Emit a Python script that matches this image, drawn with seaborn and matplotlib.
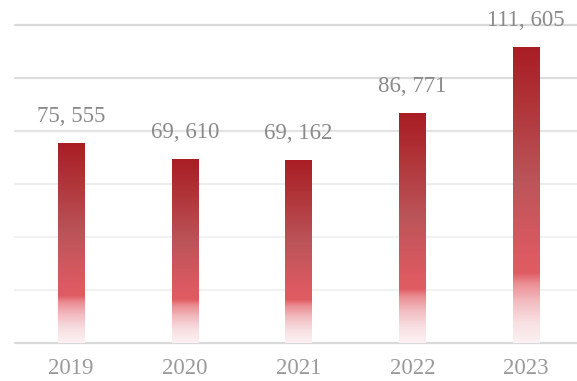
import numpy as np
import pandas as pd
import matplotlib
matplotlib.use("Agg")
import matplotlib.pyplot as plt
from matplotlib.colors import LinearSegmentedColormap
import seaborn as sns

years = ["2019", "2020", "2021", "2022", "2023"]
values = [75555, 69610, 69162, 86771, 111605]
y_ticks = [0, 20000, 40000, 60000, 80000, 100000, 120000]

sns.set_theme(style="white")
plt.rcParams["font.family"] = ["Liberation Serif", "DejaVu Serif"]

df = pd.DataFrame({"year": years, "value": values})

fig = plt.figure(figsize=(5.77, 3.81), dpi=100)
ax = fig.add_axes([15 / 577, 38 / 381, 562 / 577, 318 / 381])

sns.barplot(data=df, x="year", y="value", ax=ax, width=0.229,
            color="#c03a40", saturation=1, zorder=2)

# horizontal guide lines, lighter toward the lower part of the plot
grid_colors = ["#d9d9d9", "#f2f2f2", "#f2f2f2", "#ededed", "#e3e3e3", "#dcdcdc", "#d9d9d9"]
for yv, c in zip(y_ticks, grid_colors):
    ax.axhline(yv, color=c, lw=1.6, zorder=1, clip_on=False)

# vertical red gradient inside each bar (top = dark red, bottom = near white)
stops = [
    (0.00, "#fcf1f3"),
    (0.07, "#f8dfe2"),
    (0.14, "#f2bcc0"),
    (0.20, "#eb8e94"),
    (0.235, "#e05c63"),
    (0.30, "#dc5a61"),
    (0.55, "#bb5459"),
    (0.80, "#b03539"),
    (1.00, "#a91d24"),
]
cmap = LinearSegmentedColormap.from_list("bar_fade", stops)
grad = np.linspace(0, 1, 256).reshape(-1, 1)
for patch in ax.patches:
    x0 = patch.get_x()
    w = patch.get_width()
    h = patch.get_height()
    patch.set_facecolor("none")
    patch.set_edgecolor("none")
    im = ax.imshow(grad, cmap=cmap, origin="lower", aspect="auto",
                   extent=(x0, x0 + w, 0, h), zorder=2, interpolation="bilinear")
    im.set_clip_path(patch)

ax.set_xlim(-0.492, 4.448)
ax.set_ylim(0, 120000)

for i, v in enumerate(values):
    ax.annotate(f"{v:,}".replace(",", ", "), xy=(i, v), xytext=(0, 19),
                textcoords="offset points", ha="center", va="center",
                fontsize=16.5, color="#8a8a8a", zorder=3)

ax.set_yticks([])
ax.set_xlabel("")
ax.set_ylabel("")
ax.tick_params(axis="x", length=0, pad=11, labelsize=16.5, labelcolor="#9a9a9a")
for s in ax.spines.values():
    s.set_visible(False)

fig.savefig("out.png", dpi=100)
